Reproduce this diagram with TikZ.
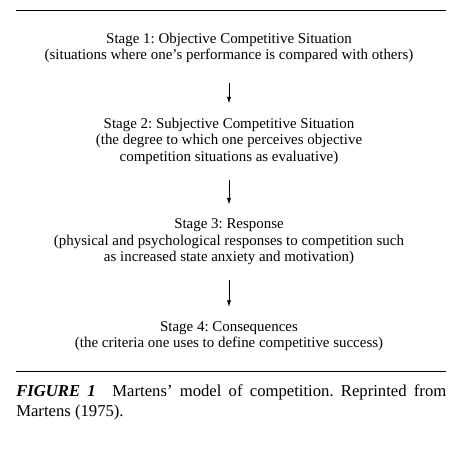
\documentclass[tikz,border=0pt]{standalone}
\usepackage{fontspec}
\setmainfont{Liberation Serif}
\usetikzlibrary{arrows.meta}
\begin{document}
\frenchspacing
\begin{tikzpicture}[x=0.75pt,y=-0.75pt,
  stagebox/.style={align=center,inner sep=0pt,font=\fontsize{11.2}{12.4}\selectfont},
  flow/.style={line width=0.6pt,-{Latex[length=5pt,width=3.2pt]}},
  rulebar/.style={line width=0.6pt}]
\useasboundingbox (0,0) rectangle (459,452);
\coordinate (tl) at (16,10);
\coordinate (tr) at (446,10);
\draw[rulebar] (tl) -- (tr);
\node[stagebox] (s1) at (229,48) {Stage 1: Objective Competitive Situation\\(situations where one’s performance is compared with others)};
\node[stagebox] (s2) at (229,141) {Stage 2: Subjective Competitive Situation\\(the degree to which one perceives objective\\competition situations as evaluative)};
\node[stagebox] (s3) at (229,242) {Stage 3: Response\\(physical and psychological responses to competition such\\as increased state anxiety and motivation)};
\node[stagebox] (s4) at (229,336) {Stage 4: Consequences\\(the criteria one uses to define competitive success)};
\draw[flow,shorten <=20pt*0.75,shorten >=14pt*0.75] (s1) -- (s2);
\draw[flow,shorten <=15pt*0.75,shorten >=14pt*0.75] (s2) -- (s3);
\draw[flow,shorten <=15pt*0.75,shorten >=14pt*0.75] (s3) -- (s4);
\coordinate (bl) at (16,371);
\coordinate (br) at (446,371);
\draw[rulebar] (bl) -- (br);
\node[anchor=north west,inner sep=0pt,text width=322.5pt,align=justify,font=\frenchspacing\fontsize{12.5}{15}\selectfont] (cap) at (16,384) {\textbf{\textit{FIGURE 1}}\hspace{1em}Martens’ model of competition. Reprinted from\linebreak Martens (1975).};
\end{tikzpicture}
\end{document}
